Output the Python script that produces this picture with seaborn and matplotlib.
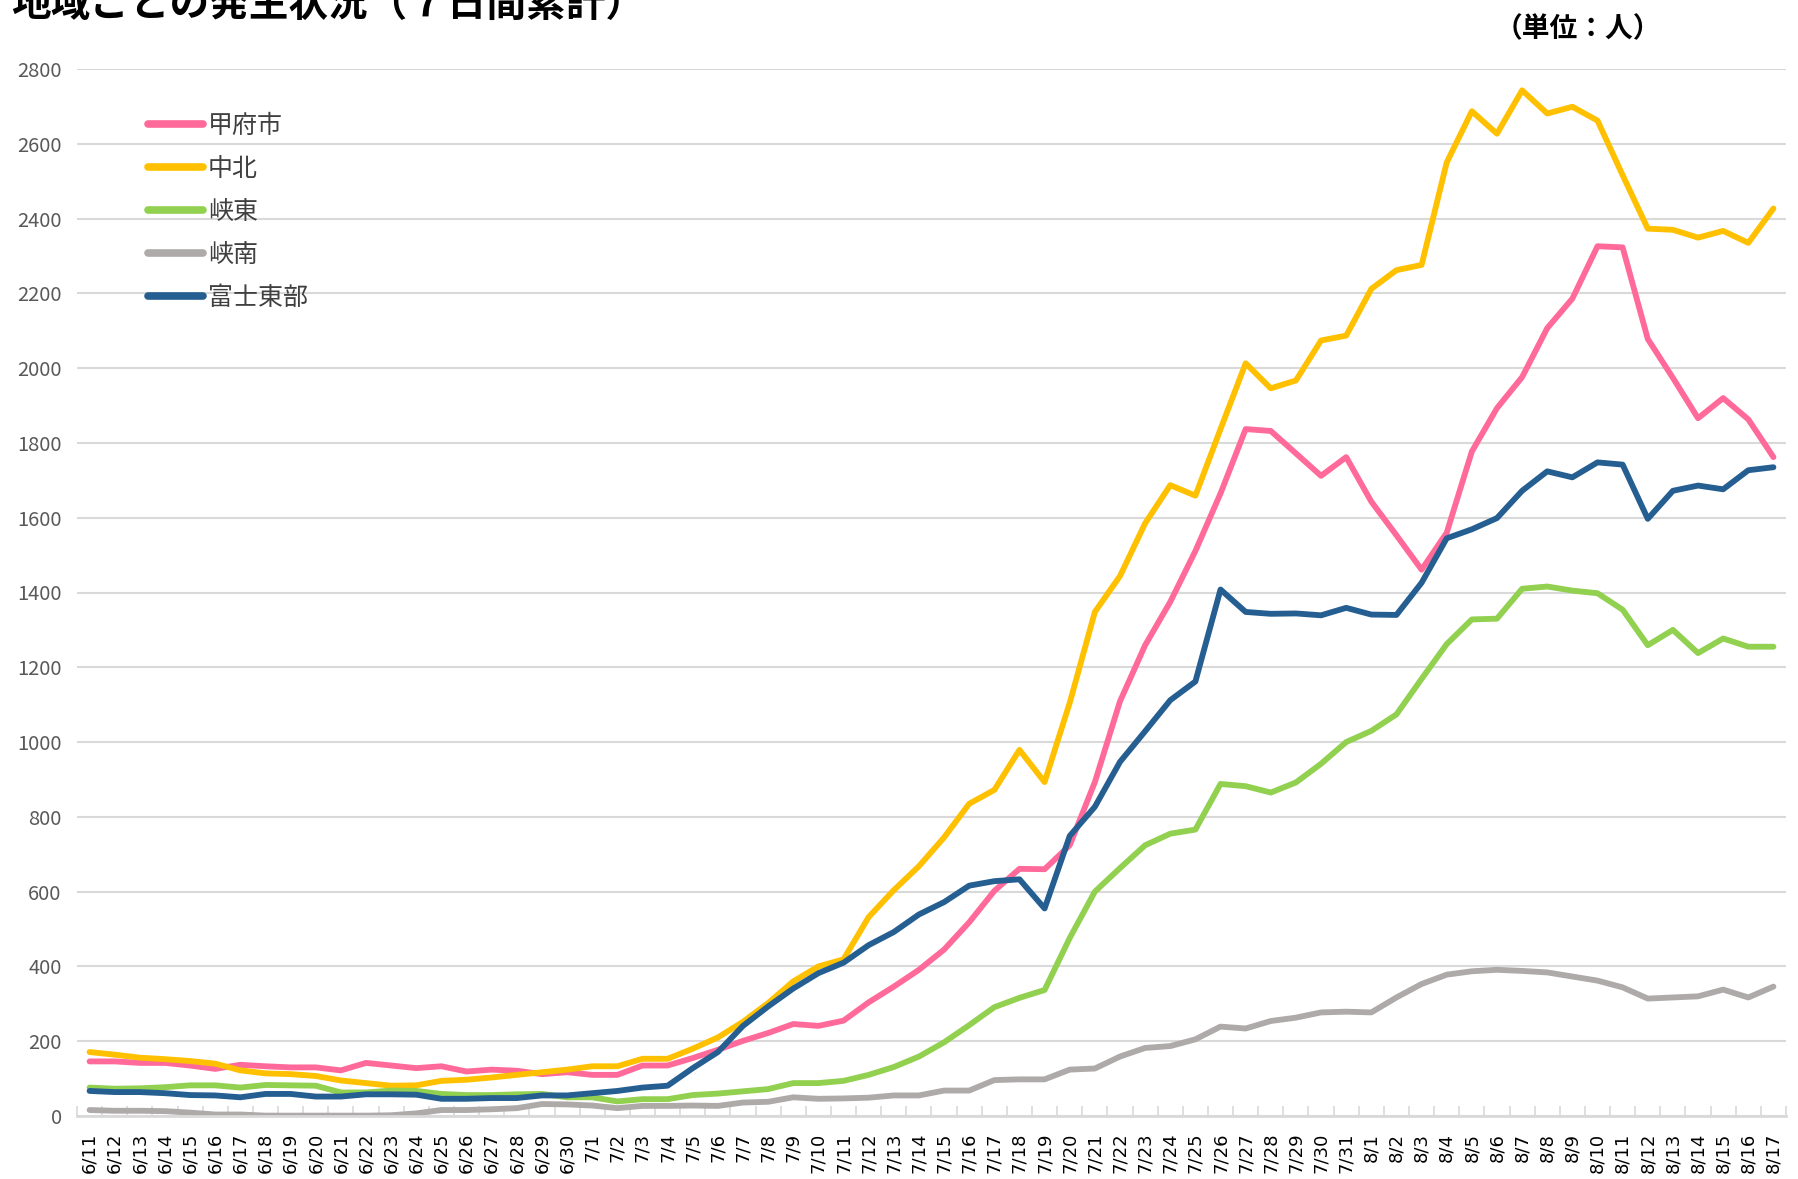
import numpy as np
import pandas as pd
import matplotlib.pyplot as plt
import seaborn as sns

# Dates (x categories)
dates = ['6/11', '6/12', '6/13', '6/14', '6/15', '6/16', '6/17', '6/18', '6/19', '6/20',
         '6/21', '6/22', '6/23', '6/24', '6/25', '6/26', '6/27', '6/28', '6/29', '6/30',
         '7/1', '7/2', '7/3', '7/4', '7/5', '7/6', '7/7', '7/8', '7/9', '7/10',
         '7/11', '7/12', '7/13', '7/14', '7/15', '7/16', '7/17', '7/18', '7/19', '7/20',
         '7/21', '7/22', '7/23', '7/24', '7/25', '7/26', '7/27', '7/28', '7/29', '7/30', '7/31',
         '8/1', '8/2', '8/3', '8/4', '8/5', '8/6', '8/7', '8/8', '8/9', '8/10',
         '8/11', '8/12', '8/13', '8/14', '8/15', '8/16', '8/17']

# 7-day totals per region
kofu = [146, 146, 142, 142, 135, 126, 137, 133, 130, 130, 122, 142, 135, 128, 133, 119, 124, 121, 112, 117,
        110, 110, 135, 135, 155, 177, 201, 222, 246, 241, 255, 304, 346, 391, 445, 518, 602, 661, 660, 724,
        893, 1109, 1259, 1375, 1511, 1665, 1837, 1832, 1772, 1712, 1762,
        1643, 1553, 1461, 1560, 1777, 1893, 1976, 2107, 2186, 2326, 2323, 2078, 1974, 1866, 1920, 1863, 1762]
chuhoku = [171, 164, 156, 152, 147, 140, 122, 114, 112, 107, 95, 88, 81, 82, 94, 97, 103, 110, 117, 124,
           133, 133, 153, 153, 180, 210, 252, 302, 360, 400, 419, 532, 604, 668, 745, 835, 872, 979, 893, 1105,
           1348, 1444, 1585, 1687, 1659, 1837, 2013, 1946, 1967, 2074, 2087,
           2212, 2262, 2276, 2550, 2687, 2627, 2743, 2681, 2699, 2662, 2516, 2373, 2370, 2349, 2367, 2335, 2427]
kyoto = [76, 73, 74, 77, 82, 82, 76, 83, 82, 81, 63, 63, 68, 67, 59, 56, 56, 58, 59, 50,
         50, 39, 45, 45, 56, 60, 66, 72, 88, 88, 94, 110, 131, 159, 197, 243, 291, 316, 337, 476,
         600, 663, 724, 755, 766, 888, 882, 865, 892, 942, 1000,
         1030, 1074, 1169, 1262, 1328, 1330, 1410, 1416, 1405, 1398, 1354, 1259, 1300, 1238, 1277, 1255, 1255]
kyonan = [16, 14, 14, 13, 9, 4, 4, 1, 1, 1, 1, 1, 2, 7, 16, 16, 18, 21, 32, 31,
          28, 21, 27, 27, 28, 27, 36, 38, 50, 46, 47, 49, 55, 55, 68, 68, 96, 98, 98, 124,
          127, 159, 182, 187, 205, 239, 234, 254, 263, 277, 279,
          277, 317, 353, 378, 387, 391, 388, 384, 373, 362, 344, 314, 317, 320, 338, 317, 346]
fuji_tobu = [67, 64, 64, 61, 56, 55, 50, 59, 59, 52, 52, 58, 58, 57, 46, 46, 48, 48, 55, 55,
             61, 67, 76, 81, 128, 171, 241, 293, 341, 382, 410, 457, 492, 539, 572, 616, 628, 633, 555, 749,
             827, 947, 1029, 1112, 1162, 1408, 1348, 1343, 1344, 1339, 1359,
             1341, 1340, 1426, 1545, 1569, 1599, 1672, 1724, 1708, 1748, 1742, 1597, 1672, 1686, 1676, 1727, 1735]

regions = ['甲府市', '中北', '峡東', '峡南', '富士東部']
colors = ['#FF6A9A', '#FFC000', '#92D050', '#AEAAAA', '#255E91']
yticks = [0, 200, 400, 600, 800, 1000, 1200, 1400, 1600, 1800, 2000, 2200, 2400, 2600, 2800]

# long-form table for seaborn
series = [kofu, chuhoku, kyoto, kyonan, fuji_tobu]
pos = {d: i for i, d in enumerate(dates)}
df = pd.DataFrame({
    'date': dates * len(regions),
    'value': np.concatenate(series),
    'region': np.repeat(regions, len(dates)),
})
df['idx'] = df['date'].map(pos)

sns.set_theme(style='white')
plt.rcParams['font.family'] = ['Noto Sans CJK JP', 'DejaVu Sans']

fig = plt.figure(figsize=(17.99, 11.79), dpi=100)
ax = fig.add_axes([77 / 1799, 1 - 1116 / 1179, (1786 - 77) / 1799, (1116 - 69) / 1179])

sns.lineplot(data=df, x='idx', y='value', hue='region', hue_order=regions,
             palette=colors, linewidth=4.2, sort=False, estimator=None, ax=ax,
             solid_capstyle='round', solid_joinstyle='round')

ax.set_xlim(-0.5, len(dates) - 0.5)
ax.set_ylim(0, 2800)
ax.set_yticks(yticks)
ax.set_yticklabels([str(v) for v in yticks], fontsize=14.5, color='#595959')
ax.set_xticks(range(len(dates)))
ax.set_xticklabels(dates, rotation=90, fontsize=13, color='black', family='DejaVu Sans')
ax.set_xticks(np.arange(len(dates) + 1) - 0.5, minor=True)
ax.tick_params(axis='x', which='major', length=0, pad=12)
ax.tick_params(axis='x', which='minor', direction='in', length=7, width=1.2, color='#D9D9D9', bottom=True)
ax.tick_params(axis='y', length=0, pad=11)
ax.set_xlabel('')
ax.set_ylabel('')

ax.grid(axis='y', color='#D9D9D9', linewidth=1.5)
ax.set_axisbelow(True)
for s in ['top', 'right', 'left']:
    ax.spines[s].set_visible(False)
ax.spines['bottom'].set_color('#D9D9D9')
ax.spines['bottom'].set_linewidth(2)

leg = ax.legend(loc='upper left', bbox_to_anchor=(0.0415, 0.958), frameon=False,
                fontsize=18, handlelength=2.2, handletextpad=0.2, labelspacing=0.68,
                borderaxespad=0, borderpad=0)
for t in leg.get_texts():
    t.set_color('#404040')
for h in leg.get_lines():
    h.set_linewidth(5.5)
    h.set_solid_capstyle('round')

# title (partially cut off at the top, as in the original)
fig.text(0.006, 1 - 16 / 1179, '地域ごとの発生状況（７日間累計）', fontsize=28.5,
         fontweight='bold', ha='left', va='baseline', color='black')
fig.text(0.877, 1 - 29 / 1179, '（単位：人）', fontsize=20, fontweight='bold',
         ha='center', va='center', color='black')

fig.savefig('out.png', dpi=100)
